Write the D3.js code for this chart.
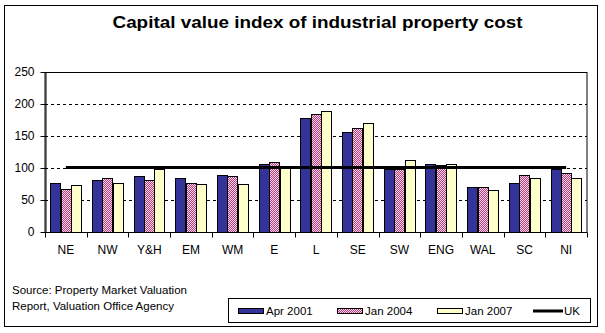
<!DOCTYPE html>
<html>
<head>
<meta charset="utf-8">
<script src="https://cdn.jsdelivr.net/npm/d3@7"></script>
<style>
  body { margin: 0; background: #fff; }
  svg { display: block; font-family: "Liberation Sans", Arial, sans-serif; }
</style>
</head>
<body>
<svg id="chart"></svg>
<script>
const width = 605;
const height = 333;

// **************************** DATA ******************************************
const regions = ["NE", "NW", "Y&H", "EM", "WM", "E", "L", "SE", "SW", "ENG", "WAL", "SC", "NI"];
const apr2001 = [75, 81, 86, 83, 89, 106, 178, 155, 97, 105, 70, 75, 98];
const jan2004 = [67, 83, 81, 76.5, 86, 109, 183, 162, 98, 104.5, 69, 89, 92];
const jan2007 = [72, 76.5, 97, 73.5, 73.5, 103, 189, 169, 111, 106, 65.5, 84, 83];
const ukIndex = 100;
const seriesNames = ["Apr 2001", "Jan 2004", "Jan 2007"];
const yTicks = [0, 50, 100, 150, 200, 250];

const seriesValues = [apr2001, jan2004, jan2007];
const fills = ["#333399", "url(#checker)", "#ffffcc"];

// plot area
const margin = {top: 71.5, right: 18, bottom: 101.5, left: 45};

const svg = d3.select("#chart")
  .attr("width", width)
  .attr("height", height)
  .attr("viewBox", [0, 0, width, height]);

// checker pattern for Jan 2004 (magenta with light pink dots)
const pat = svg.append("defs").append("pattern")
  .attr("id", "checker")
  .attr("width", 2)
  .attr("height", 2)
  .attr("patternUnits", "userSpaceOnUse");
pat.append("rect").attr("width", 2).attr("height", 2).attr("fill", "#b0407a");
pat.append("rect").attr("width", 1).attr("height", 1).attr("fill", "#ffd6ee");
pat.append("rect").attr("x", 1).attr("y", 1).attr("width", 1).attr("height", 1).attr("fill", "#ffd6ee");

// filled box on whole pixels, then a crisp outline on top
function box(parent, x0, y0, w, h, fill) {
  parent.append("rect")
    .attr("x", x0).attr("y", y0).attr("width", w).attr("height", h)
    .attr("fill", fill);
  parent.append("rect")
    .attr("x", x0 + 0.5).attr("y", y0 + 0.5).attr("width", w).attr("height", h)
    .attr("fill", "none").attr("stroke", "#000");
}

// outer frame
svg.append("rect")
  .attr("x", 4.5).attr("y", 5.5)
  .attr("width", 593).attr("height", 321)
  .attr("fill", "none").attr("stroke", "#000");

// title
svg.append("text")
  .attr("x", 317.5).attr("y", 28)
  .attr("text-anchor", "middle")
  .attr("font-size", 17)
  .attr("font-weight", "bold")
  .attr("textLength", 410)
  .attr("lengthAdjust", "spacingAndGlyphs")
  .text("Capital value index of industrial property cost");

// scales
const x = d3.scaleBand(regions, [margin.left, width - margin.right]);
const xInner = d3.scaleBand(d3.range(3), [0, x.bandwidth()]).paddingOuter(0.5);
const y = d3.scaleLinear([0, 250], [height - margin.bottom, margin.top]);

// dashed gridlines
svg.append("g")
  .selectAll("line")
  .data(yTicks.filter(d => d > 0 && d < 250))
  .join("line")
  .attr("x1", margin.left).attr("x2", width - margin.right)
  .attr("y1", d => Math.round(y(d)) + 0.5).attr("y2", d => Math.round(y(d)) + 0.5)
  .attr("stroke", "#000")
  .attr("stroke-dasharray", "3,3");

// plot border
svg.append("rect")
  .attr("x", margin.left).attr("y", Math.round(y(250)) + 0.5)
  .attr("width", width - margin.right - margin.left)
  .attr("height", Math.round(y(0)) - Math.round(y(250)))
  .attr("fill", "none").attr("stroke", "#000");

// bars
const bars = svg.append("g");
regions.forEach((r, i) => {
  seriesValues.forEach((vals, s) => {
    const bx = Math.round(x(r) + xInner(s));
    const by = Math.round(y(vals[i]));
    box(bars, bx, by, Math.round(xInner.bandwidth()), Math.round(y(0)) - by, fills[s]);
  });
});

// UK line
svg.append("line")
  .attr("x1", x(regions[0]) + x.bandwidth() / 2)
  .attr("x2", x(regions[regions.length - 1]) + x.bandwidth() / 2)
  .attr("y1", y(ukIndex)).attr("y2", y(ukIndex))
  .attr("stroke", "#000")
  .attr("stroke-width", 3);

// y axis
const yAxis = svg.append("g")
  .attr("transform", `translate(${margin.left + 0.5},0.5)`)
  .call(d3.axisLeft(y).tickValues(yTicks).tickSize(5).tickPadding(6).tickSizeOuter(0));
yAxis.selectAll("text")
  .attr("font-size", 12)
  .attr("font-family", "\"Liberation Sans\", Arial, sans-serif")
  .attr("fill", "#000");
yAxis.selectAll("line, path").attr("stroke", "#000");

// x axis: ticks between categories
const xBottom = Math.round(y(0)) + 0.5;
svg.append("line")
  .attr("x1", margin.left).attr("x2", width - margin.right)
  .attr("y1", xBottom).attr("y2", xBottom)
  .attr("stroke", "#000");
svg.append("g")
  .selectAll("line")
  .data(regions.concat(["end"]))
  .join("line")
  .attr("x1", (d, i) => Math.round(margin.left + i * x.step()) + 0.5)
  .attr("x2", (d, i) => Math.round(margin.left + i * x.step()) + 0.5)
  .attr("y1", xBottom).attr("y2", xBottom + 5)
  .attr("stroke", "#000");
svg.append("g")
  .selectAll("text")
  .data(regions)
  .join("text")
  .attr("x", d => x(d) + x.bandwidth() / 2)
  .attr("y", 254)
  .attr("text-anchor", "middle")
  .attr("font-size", 12)
  .text(d => d);

// source note
svg.append("text")
  .attr("x", 12).attr("y", 294)
  .attr("font-size", 11.5)
  .text("Source: Property Market Valuation");
svg.append("text")
  .attr("x", 12).attr("y", 310)
  .attr("font-size", 11.5)
  .text("Report, Valuation Office Agency");

// legend
const legend = svg.append("g");
legend.append("rect")
  .attr("x", 228.5).attr("y", 298.5)
  .attr("width", 362).attr("height", 24)
  .attr("fill", "#fff").attr("stroke", "#000");

const legendX = [238, 337, 437];
seriesNames.forEach((name, s) => {
  box(legend, legendX[s], 308, 25, 5, fills[s]);
  legend.append("text")
    .attr("x", legendX[s] + 28).attr("y", 315)
    .attr("font-size", 11.5)
    .text(name);
});
legend.append("line")
  .attr("x1", 533).attr("x2", 563)
  .attr("y1", 311).attr("y2", 311)
  .attr("stroke", "#000").attr("stroke-width", 3);
legend.append("text")
  .attr("x", 564).attr("y", 315)
  .attr("font-size", 11.5)
  .text("UK");
</script>
</body>
</html>
